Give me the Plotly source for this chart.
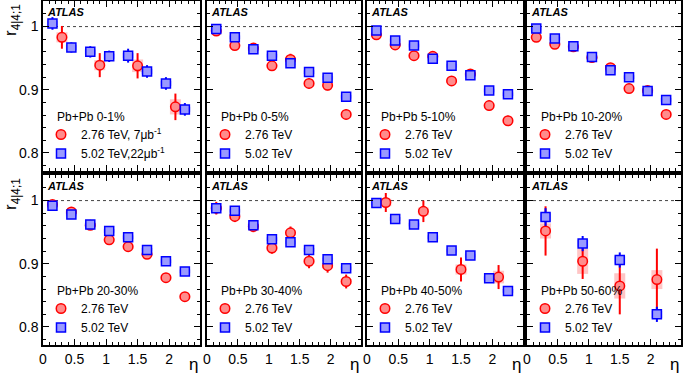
import plotly.graph_objects as go

# ---------------- data ----------------
ETA8 = [0.15, 0.45, 0.75, 1.05, 1.35, 1.65, 1.95, 2.25]
ETA4 = [0.3, 0.9, 1.5, 2.1]

centralities = ["0-1%", "0-5%", "5-10%", "10-20%", "20-30%", "30-40%", "40-50%", "50-60%"]

red_eta = [ETA4, ETA8, ETA8, ETA8, ETA8, ETA8, ETA4, ETA4]
blue_eta = [ETA8, ETA8, ETA8, ETA8, ETA8, ETA8, ETA8, ETA4]

red_val = [
    [0.983, 0.939, 0.938, 0.873],
    [0.993, 0.970, 0.966, 0.938, 0.948, 0.910, 0.907, 0.861],
    [0.987, 0.971, 0.954, 0.953, 0.914, 0.925, 0.875, 0.851],
    [0.983, 0.972, 0.968, 0.951, 0.935, 0.902, 0.899, 0.861],
    [0.994, 0.982, 0.961, 0.938, 0.927, 0.915, 0.878, 0.848],
    [0.988, 0.975, 0.959, 0.925, 0.949, 0.904, 0.897, 0.872],
    [0.997, 0.983, 0.891, 0.879],
    [0.952, 0.904, 0.865, 0.875],
]
red_stat = [
    [0.018, 0.019, 0.020, 0.021],
    [0.007, 0.006, 0.007, 0.006, 0.009, 0.008, 0.008, 0.008],
    [0.006, 0.006, 0.007, 0.006, 0.007, 0.007, 0.008, 0.008],
    [0.005, 0.005, 0.005, 0.005, 0.006, 0.006, 0.006, 0.005],
    [0.006, 0.006, 0.006, 0.007, 0.007, 0.007, 0.007, 0.007],
    [0.010, 0.009, 0.009, 0.009, 0.010, 0.011, 0.011, 0.011],
    [0.015, 0.017, 0.019, 0.019],
    [0.039, 0.028, 0.045, 0.049],
]
red_sys = [
    [0.008, 0.008, 0.010, 0.012],
    [0.003] * 8,
    [0.003] * 8,
    [0.003] * 8,
    [0.003] * 8,
    [0.004] * 8,
    [0.006, 0.006, 0.008, 0.010],
    [0.012, 0.020, 0.020, 0.015],
]
blue_val = [
    [1.005, 0.967, 0.960, 0.953, 0.954, 0.929, 0.910, 0.869],
    [0.996, 0.983, 0.964, 0.954, 0.942, 0.928, 0.919, 0.889],
    [0.994, 0.978, 0.970, 0.949, 0.938, 0.923, 0.899, 0.893],
    [0.997, 0.981, 0.969, 0.952, 0.931, 0.920, 0.898, 0.884],
    [0.992, 0.978, 0.962, 0.952, 0.942, 0.922, 0.904, 0.888],
    [0.988, 0.984, 0.961, 0.939, 0.934, 0.922, 0.907, 0.893],
    [0.996, 0.971, 0.962, 0.942, 0.921, 0.913, 0.877, 0.857],
    [0.974, 0.932, 0.906, 0.820],
]
blue_stat = [
    [0.010, 0.008, 0.009, 0.009, 0.011, 0.010, 0.010, 0.010],
    [0.004] * 8,
    [0.004] * 8,
    [0.004] * 8,
    [0.004] * 8,
    [0.004] * 8,
    [0.005] * 8,
    [0.014, 0.012, 0.012, 0.012],
]
blue_sys = [
    [0.004] * 8,
    [0.003] * 8,
    [0.003] * 8,
    [0.003] * 8,
    [0.003] * 8,
    [0.003] * 8,
    [0.003] * 8,
    [0.006, 0.006, 0.006, 0.006],
]

red_names = ["2.76 TeV, 7\u03bcb<sup>-1</sup>"] + ["2.76 TeV"] * 7
blue_names = ["5.02 TeV,22\u03bcb<sup>-1</sup>"] + ["5.02 TeV"] * 7

x_ticks = [0, 0.5, 1, 1.5, 2]
x_tick_text = ["0", "0.5", "1", "1.5", "2"]
y_ticks = [0.8, 0.9, 1.0]
y_tick_text = ["0.8", "0.9", "1"]

# ---------------- layout geometry ----------------
W, H = 685, 374
ML, MR, MT, MB = 43, 4, 1, 29
PW = W - ML - MR
PH = H - MT - MB
col_px = [(43, 200), (207, 361), (367, 523), (527, 681)]
row_px = [(1, 171), (175, 345)]

FONT = "Liberation Sans, Arial, sans-serif"

def xdom(c):
    a, b = col_px[c]
    return [(a - ML) / PW, (b - ML) / PW]

def ydom(r):
    a, b = row_px[r]
    return [(H - MB - b) / PH, (H - MB - a) / PH]

RED = "#ff0000"
RED_FILL = "#ff8c8c"
RED_SYS = "rgba(255,90,90,0.35)"
BLUE = "#0000ff"
BLUE_FILL = "#9a9aff"
BLUE_SYS = "rgba(90,90,255,0.35)"

fig = go.Figure()
layout = dict(
    width=W, height=H,
    margin=dict(l=ML, r=MR, t=MT, b=MB, autoexpand=False),
    paper_bgcolor="white", plot_bgcolor="white",
    font=dict(family=FONT, size=14, color="black"),
    showlegend=True,
)

annotations = []
shapes = []

for i in range(8):
    r, c = divmod(i, 4)
    n = i + 1
    xa = "x" if n == 1 else f"x{n}"
    ya = "y" if n == 1 else f"y{n}"
    xkey = "xaxis" if n == 1 else f"xaxis{n}"
    ykey = "yaxis" if n == 1 else f"yaxis{n}"
    lkey = "legend" if n == 1 else f"legend{n}"

    layout[xkey] = dict(
        domain=xdom(c), anchor=ya, range=[0, 2.49],
        tickvals=x_ticks, ticktext=x_tick_text,
        showticklabels=(r == 1), ticks="inside", ticklen=6, tickwidth=1,
        tickcolor="black", showline=True, mirror="ticks", linecolor="black",
        linewidth=1.5, showgrid=False, zeroline=False,
        minor=dict(dtick=0.1, ticklen=3, ticks="inside", tickcolor="black", showgrid=False),
        tickfont=dict(size=14),
    )
    layout[ykey] = dict(
        domain=ydom(r), anchor=xa, range=[0.7715, 1.0405],
        tickvals=y_ticks, ticktext=y_tick_text,
        showticklabels=(c == 0), ticks="inside", ticklen=6, tickwidth=1,
        tickcolor="black", showline=True, mirror="ticks", linecolor="black",
        linewidth=1.5, showgrid=False, zeroline=False,
        minor=dict(dtick=0.02, ticklen=3, ticks="inside", tickcolor="black", showgrid=False),
        tickfont=dict(size=14),
    )

    # legend inside panel
    x0 = (col_px[c][0] - 2 - ML) / PW
    ytop_px = row_px[r][0] + 119
    layout[lkey] = dict(
        x=x0, y=(H - MB - ytop_px) / PH, xanchor="left", yanchor="top",
        bgcolor="rgba(0,0,0,0)", borderwidth=0,
        font=dict(family=FONT, size=12, color="black"),
        tracegroupgap=0,
    )

    # systematic boxes (drawn first)
    fig.add_trace(go.Scatter(
        x=red_eta[i], y=red_val[i], xaxis=xa, yaxis=ya, mode="markers",
        marker=dict(size=1, color="rgba(0,0,0,0)"),
        error_y=dict(type="data", array=red_sys[i], color=RED_SYS, thickness=11, width=0),
        showlegend=False, hoverinfo="skip",
    ))
    fig.add_trace(go.Scatter(
        x=blue_eta[i], y=blue_val[i], xaxis=xa, yaxis=ya, mode="markers",
        marker=dict(size=1, color="rgba(0,0,0,0)"),
        error_y=dict(type="data", array=blue_sys[i], color=BLUE_SYS, thickness=11, width=0),
        showlegend=False, hoverinfo="skip",
    ))
    # data with stat errors
    fig.add_trace(go.Scatter(
        x=red_eta[i], y=red_val[i], xaxis=xa, yaxis=ya, mode="markers",
        name=red_names[i], legend=lkey,
        marker=dict(symbol="circle", size=9.5, color=RED_FILL, line=dict(color=RED, width=1.5)),
        error_y=dict(type="data", array=red_stat[i], color=RED, thickness=2, width=0),
    ))
    fig.add_trace(go.Scatter(
        x=blue_eta[i], y=blue_val[i], xaxis=xa, yaxis=ya, mode="markers",
        name=blue_names[i], legend=lkey,
        marker=dict(symbol="square", size=9, color=BLUE_FILL, line=dict(color=BLUE, width=1.5)),
        error_y=dict(type="data", array=blue_stat[i], color=BLUE, thickness=2, width=0),
    ))

    # dotted reference line at 1
    shapes.append(dict(type="line", xref=f"{xa} domain", yref=ya, x0=0, x1=1, y0=1, y1=1,
                       line=dict(color="#444444", width=1, dash="dot"), layer="below"))

    # ATLAS label
    annotations.append(dict(text="<b><i>ATLAS</i></b>", xref=f"{xa} domain", yref=f"{ya} domain",
                            x=0.01, y=0.935, xanchor="left", yanchor="middle", showarrow=False,
                            font=dict(family=FONT, size=11, color="black")))
    # centrality label
    annotations.append(dict(text=f"Pb+Pb {centralities[i]}", xref=f"{xa} domain", yref=f"{ya} domain",
                            x=0.075, y=0.318, xanchor="left", yanchor="middle", showarrow=False,
                            font=dict(family=FONT, size=12, color="black")))
    # eta label under bottom row
    if r == 1:
        annotations.append(dict(text="\u03b7", xref=f"{xa} domain", yref="paper",
                                x=1.0, y=(H - MB - 364) / PH, xanchor="right", yanchor="middle",
                                showarrow=False, font=dict(family=FONT, size=17, color="black")))

# y-axis titles
for r in range(2):
    annotations.append(dict(text="r<sub>4|4;1</sub>", xref="paper", yref="paper",
                            x=(12 - ML) / PW, y=(H - MB - (row_px[r][0] + 1)) / PH,
                            xanchor="center", yanchor="top", textangle=-90, showarrow=False,
                            font=dict(family=FONT, size=17, color="black")))

layout["annotations"] = annotations
layout["shapes"] = shapes
fig.update_layout(**layout)

fig.write_html("out.html",
               config={"displayModeBar": False},
               post_script="document.body.style.margin='0';document.body.style.overflow='hidden';")
